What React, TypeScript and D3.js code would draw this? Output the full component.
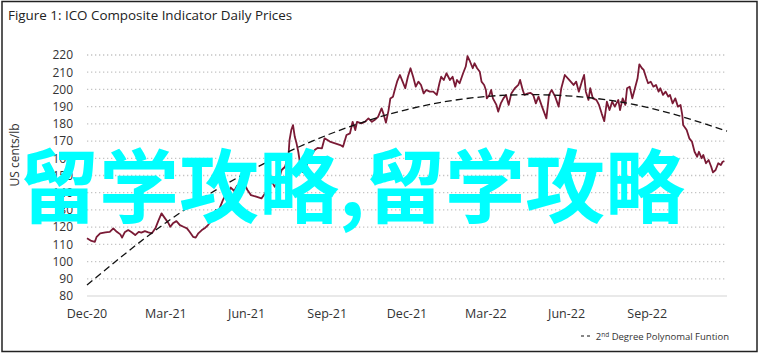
import React, { useEffect } from "react";
import * as d3 from "d3";

// ---- data ----
const startDate = "2020-12-01";
const endDate = "2022-12-01";
const tickDates = ["2020-12-01", "2021-03-01", "2021-06-01", "2021-09-01", "2021-12-01", "2022-03-01", "2022-06-01", "2022-09-01"];
const yTicks = [80, 90, 100, 110, 120, 130, 140, 150, 160, 170, 180, 190, 200, 210, 220];

// day offsets from start date, and ICO composite price (US cents/lb)
const priceDays = [
  0, 5, 9, 11, 15, 21, 26, 30, 34, 38, 40, 43, 47, 51, 55, 59, 62, 66, 70, 74, 78, 81, 85, 89, 93, 95, 98, 102, 106, 110,
  114, 117, 121, 124, 127, 131, 135, 138, 141, 144, 147, 149, 152, 155, 157, 161, 164, 168, 171, 176, 180, 183, 187, 193, 199, 203, 207, 211, 214, 218,
  222, 226, 230, 231, 233, 235, 237, 239, 241, 243, 246, 250, 253, 256, 260, 263, 268, 271, 277, 283, 289, 292, 296, 300, 303, 306, 308, 313, 317, 321,
  325, 328, 332, 336, 338, 341, 344, 346, 349, 351, 354, 357, 360, 363, 366, 369, 372, 375, 378, 381, 384, 387, 391, 395, 399, 402, 404, 407, 410, 414,
  417, 420, 422, 425, 429, 432, 434, 437, 440, 442, 445, 448, 450, 453, 455, 456, 459, 461, 463, 467, 469, 472, 475, 478, 481, 484, 488, 492, 494, 497,
  499, 503, 506, 509, 512, 515, 519, 524, 527, 530, 534, 538, 541, 545, 550, 555, 558, 561, 565, 567, 569, 572, 574, 577, 581, 584, 587, 590, 593, 596,
  599, 602, 606, 608, 611, 614, 616, 619, 622, 625, 628, 630, 633, 635, 638, 640, 643, 646, 649, 652, 654, 657, 660, 663, 665, 668, 671, 674, 677, 679,
  680, 684, 687, 690, 693, 696, 698, 701, 703, 706, 709, 712, 714, 717, 720, 723, 725, 727,
];
const prices = [
  113.5, 112, 111.5, 114.4, 116.4, 117, 117.3, 119.3, 117.3, 115.8, 113.9, 117, 118.3, 117, 115.4, 117.3, 116.8, 117.7, 117, 116.4, 119.3, 123.2, 128, 125.1, 122.2, 120.2, 122.2, 123.5, 121.2, 120.2,
  119.3, 117.3, 114.4, 113.9, 116.4, 118.3, 119.7, 121.2, 123.2, 126, 130, 128, 131.9, 135.7, 137.7, 140, 143, 141, 144, 145.4, 144.5, 141.6, 138.6, 137.7, 136.7, 139.6, 143.5, 146.4, 143.5, 146.4,
  153.2, 155.1, 163, 170.6, 176.4, 179.3, 172.5, 168.7, 163.8, 157.1, 152, 155, 160, 162, 165, 166, 165.8, 171.6, 169.7, 168.7, 167.7, 166.7, 173.5, 174.5, 181.2, 176.4, 181.2, 180.3, 181.2, 183.2,
  181.2, 182.2, 184.1, 189, 186.1, 180.7, 188, 194.8, 195.8, 199.7, 205, 208.4, 204.5, 200.7, 207.4, 212.3, 207.4, 201.6, 204.5, 202.6, 197.7, 199.7, 198.7, 198.7, 196.8, 203.6, 207.4, 205.5, 209.4, 205.5,
  207.4, 201.6, 205.5, 203.6, 209.4, 213.3, 219.4, 216.1, 212.3, 215.2, 212.3, 210.3, 204.5, 202.6, 199.7, 194.8, 196.8, 199.7, 194.8, 191, 187.1, 191.9, 194.8, 196.8, 191, 197.7, 200.7, 202.6, 205.5, 199.7,
  196.8, 197.7, 198, 196.8, 191.9, 195.8, 190, 183.2, 196.8, 199.7, 195.8, 190, 200.7, 208.4, 205.5, 202.6, 204.5, 198.7, 205.5, 208.4, 198.7, 193.9, 200.7, 194.8, 193.9, 191, 186.1, 181.6, 192.9, 188,
  192.9, 190, 193.9, 188, 194.8, 191, 200.7, 201.6, 194.8, 200.7, 206.5, 214.6, 212.3, 211.3, 206.5, 203.6, 204.5, 201.6, 202.6, 198.7, 200.7, 196.8, 198.7, 195.8, 196.8, 191.9, 194.8, 190, 191, 185.1,
  179.3, 176.4, 171.6, 169.7, 163.8, 160.9, 163.8, 160, 161.9, 157.1, 159, 155.1, 151.8, 153.2, 157.1, 156.1, 158, 158.4,
];

// 2nd degree polynomial trend, read at each quarter start
const trendDates = ["2020-12-01", "2021-03-01", "2021-06-01", "2021-09-01", "2021-12-01", "2022-03-01", "2022-06-01", "2022-09-01", "2022-12-01"];
const trendValues = [86.4, 122.6, 151.6, 173.5, 188.3, 195.9, 196.3, 189.6, 175.8];

const titleText = "Figure 1: ICO Composite Indicator Daily Prices";
const yTitle = "US cents/lb";
const watermark = "留学攻略,留学攻略";

const W = 762;
const H = 356;
const FONT = "'Open Sans', 'DejaVu Sans', sans-serif";

export default function App() {
  useEffect(() => {
    document.body.style.margin = "0";
  }, []);

  const parse = d3.utcParse("%Y-%m-%d");
  const x = d3.scaleUtc().domain([parse(startDate)!, parse(endDate)!]).range([87, 727]);
  const y = d3.scaleLinear().domain([80, 220]).range([296, 55]);
  const fmt = d3.utcFormat("%b-%y");

  const start = parse(startDate)!;
  const pricePts = priceDays.map((d, i) => ({ date: d3.utcDay.offset(start, d), v: prices[i] }));
  const trendPts = trendDates.map((d, i) => ({ date: parse(d)!, v: trendValues[i] }));

  const priceLine = d3
    .line<{ date: Date; v: number }>()
    .x((d) => x(d.date))
    .y((d) => y(d.v));
  const trendLine = d3
    .line<{ date: Date; v: number }>()
    .x((d) => x(d.date))
    .y((d) => y(d.v))
    .curve(d3.curveNatural);

  return (
    <div style={{ position: "absolute", left: 0, top: 0 }}>
      <svg width={W} height={H} style={{ display: "block" }} fontFamily={FONT}>
        <rect x={0} y={0} width={W} height={H} fill="#fff" />
        <rect x={2} y={1.5} width={755} height={350} fill="none" stroke="#222" strokeWidth={1.5} />
        <text x={8} y={20} fontSize={13.4} fill="#222">
          {titleText}
        </text>

        {/* grid */}
        {yTicks.map((t) =>
          t === 80 ? (
            <line key={t} x1={87} x2={727} y1={y(t)} y2={y(t)} stroke="#d4d4d4" strokeWidth={1.2} />
          ) : (
            <line
              key={t}
              x1={87}
              x2={727}
              y1={y(t)}
              y2={y(t)}
              stroke="#c4c4c4"
              strokeWidth={1.3}
              strokeDasharray="1.3 2.7"
            />
          )
        )}

        {/* y tick labels */}
        {yTicks.map((t) => (
          <text key={t} x={73} y={y(t)} dy="0.36em" textAnchor="end" fontSize={12} fill="#333">
            {t}
          </text>
        ))}
        <text
          transform={`translate(19,${155}) rotate(-90)`}
          textAnchor="middle"
          fontSize={12}
          fill="#333"
        >
          {yTitle}
        </text>

        {/* x tick labels */}
        {tickDates.map((d) => (
          <text key={d} x={x(parse(d)!)} y={318} textAnchor="middle" fontSize={12.5} fill="#333">
            {fmt(parse(d)!)}
          </text>
        ))}

        {/* series */}
        <path d={priceLine(pricePts) || ""} fill="none" stroke="#7a1a35" strokeWidth={1.8} strokeLinejoin="round" />
        <path d={trendLine(trendPts) || ""} fill="none" stroke="#111" strokeWidth={1.3} strokeDasharray="7 4" />

        {/* legend */}
        <line x1={581} x2={591} y1={336} y2={336} stroke="#111" strokeWidth={1.2} strokeDasharray="3 3" />
        <text x={729} y={340} textAnchor="end" fontSize={9.5} fill="#333">
          2<tspan fontSize={6.5} dy={-3.5}>nd</tspan>
          <tspan dy={3.5}> Degree Polynomal Funtion</tspan>
        </text>

        {/* overlay text */}
        <text
          x={19}
          y={216}
          fontSize={80}
          fontWeight={700}
          fill="#00ffff"
          fontFamily="'Noto Sans CJK SC', sans-serif"
        >
          {watermark}
        </text>
      </svg>
    </div>
  );
}
